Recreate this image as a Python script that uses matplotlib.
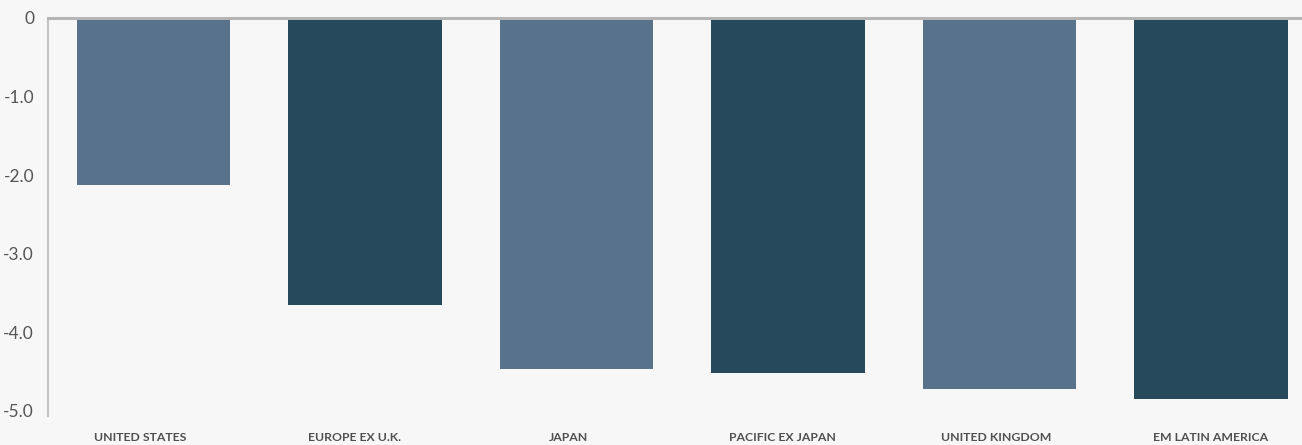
import matplotlib
matplotlib.use('Agg')
import matplotlib.pyplot as plt
import numpy as np

categories = ['UNITED STATES', 'EUROPE EX U.K.', 'JAPAN', 'PACIFIC EX JAPAN',
              'UNITED KINGDOM', 'EM LATIN AMERICA']
values = [-2.13, -3.66, -4.47, -4.52, -4.73, -4.85]
colors = ['#57728A', '#26495C', '#57728A', '#26495C', '#57728A', '#26495C']
yticks = [0, -1, -2, -3, -4, -5]
ylabels = ['0', '-1.0', '-2.0', '-3.0', '-4.0', '-5.0']

plt.rcParams['font.family'] = ['Lato', 'DejaVu Sans']

W, H = 1302, 445
fig = plt.figure(figsize=(W / 100, H / 100), dpi=100)
fig.patch.set_facecolor('#F7F7F7')
ax = fig.add_axes([48 / W, 1 - 416 / H, (W - 48) / W, (416 - 18) / H])
ax.set_facecolor('#F7F7F7')

x = np.arange(len(categories))
ax.bar(x, values, width=0.725, color=colors, zorder=2)

ax.set_xlim(-0.499, 5.43)
ax.set_ylim(-5.07, 0)
ax.set_yticks(yticks)
ax.set_yticklabels(ylabels)
ax.set_xticks([])

for s in ['right', 'bottom']:
    ax.spines[s].set_visible(False)
ax.spines['left'].set_color('#C4C4C4')
ax.spines['left'].set_linewidth(1.5)
ax.spines['top'].set_color('#B5B5B5')
ax.spines['top'].set_linewidth(2.2)
ax.spines['top'].set_zorder(3)

ax.tick_params(axis='y', length=0, pad=10, labelsize=12.5, labelcolor='#555555')

# category labels sit on a slightly wider grid than the bars
for xi, c in zip(x, categories):
    ax.text(xi * 1.012 - 0.064, -5.07 - 0.27, c, ha='center', va='center',
            fontsize=8.8, fontweight='bold', color='#505050', clip_on=False)

fig.savefig('out.png', dpi=100, facecolor=fig.get_facecolor())
